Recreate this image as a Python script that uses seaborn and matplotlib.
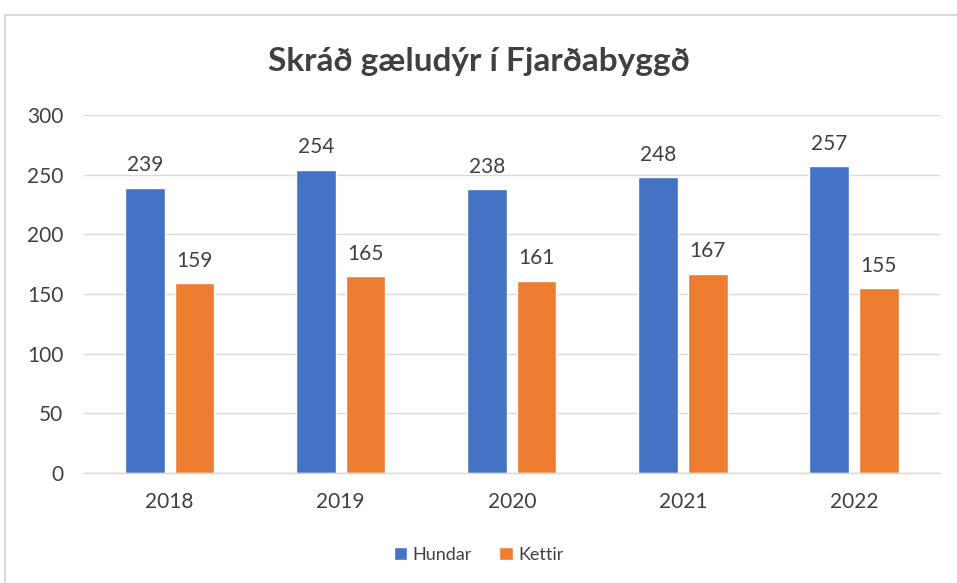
import pandas as pd
import matplotlib.pyplot as plt
import seaborn as sns
from matplotlib.patches import Rectangle

years = ["2018", "2019", "2020", "2021", "2022"]
hundar = [239, 254, 238, 248, 257]
kettir = [159, 165, 161, 167, 155]
series_names = ["Hundar", "Kettir"]
colors = ["#4472C4", "#ED7D31"]

df = pd.DataFrame({
    "ar": years * 2,
    "fjoldi": hundar + kettir,
    "tegund": [series_names[0]] * len(years) + [series_names[1]] * len(years),
})

sns.set_style("white")
plt.rcParams["font.family"] = ["Lato", "DejaVu Sans"]

fig = plt.figure(figsize=(9.57, 5.83), dpi=100)
ax = fig.add_axes([0.0878, 0.1887, 0.894, 0.614])

sns.barplot(data=df, x="ar", y="fjoldi", hue="tegund", palette=colors,
            saturation=1, width=0.58, gap=0.2, ax=ax, legend=True)

for cont in ax.containers:
    ax.bar_label(cont, padding=9, fontsize=15, color="#404040")

ax.set_ylim(0, 300)
ax.set_yticks(range(0, 301, 50))
ax.yaxis.grid(True, color="#D9D9D9", linewidth=1)
ax.set_axisbelow(True)
sns.despine(ax=ax, left=True, top=True, right=True)
ax.spines["bottom"].set_color("#D9D9D9")
ax.spines["bottom"].set_linewidth(1)
ax.tick_params(axis="both", length=0, labelsize=15, labelcolor="#404040")
ax.tick_params(axis="x", pad=14)
ax.tick_params(axis="y", pad=15)
ax.set_xlabel("")
ax.set_ylabel("")

fig.suptitle("Skráð gæludýr í Fjarðabyggð", y=0.92, fontsize=24,
             fontweight="bold", color="#404040")

handles, labels = ax.get_legend_handles_labels()
ax.get_legend().remove()
fig.legend(handles, labels, loc="center", bbox_to_anchor=(0.5, 0.048), ncol=2,
           frameon=False, fontsize=13, handlelength=0.75, handleheight=0.75,
           handletextpad=0.3, columnspacing=1.5, labelcolor="#404040")

fig.patches.append(Rectangle((5 / 957, -0.1), 1.2, 1 - 15 / 583 + 0.1,
                             transform=fig.transFigure, fill=False,
                             edgecolor="#D9D9D9", linewidth=1.5))

fig.savefig("out.png", dpi=100)
